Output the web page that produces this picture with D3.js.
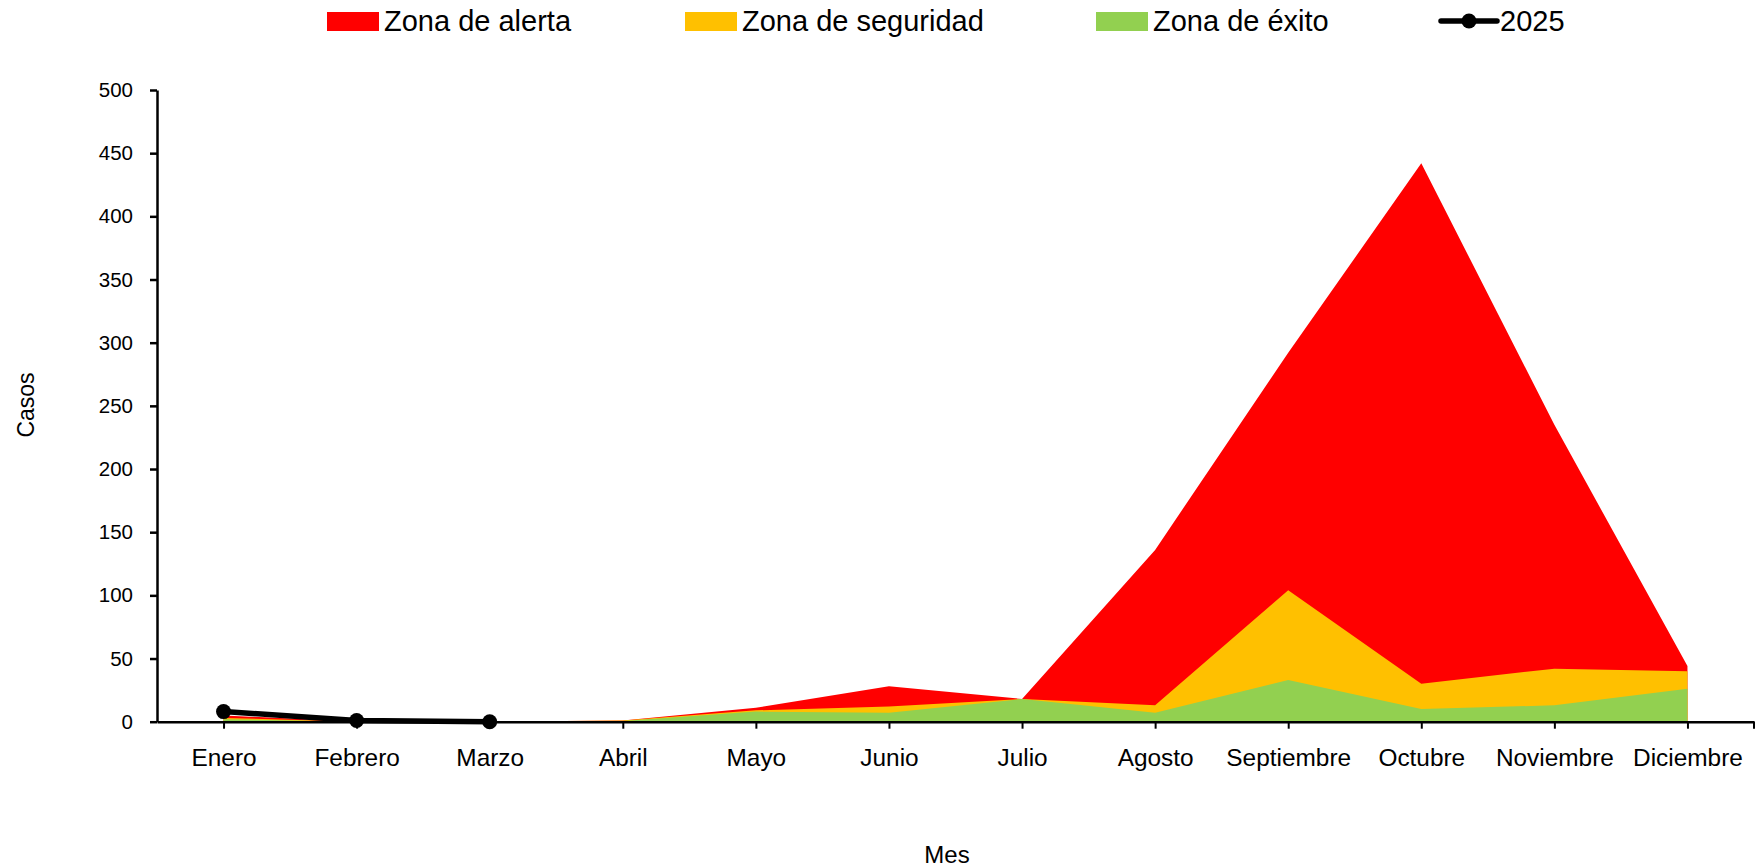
<!DOCTYPE html>
<html>
<head>
<meta charset="utf-8">
<script src="https://cdn.jsdelivr.net/npm/d3@7"></script>
<style>
  html, body { margin: 0; padding: 0; background: #fff; }
  svg { display: block; font-family: "Liberation Sans", Arial, sans-serif; }
</style>
</head>
<body>
<div id="chart"></div>
<script>
const months = ["Enero", "Febrero", "Marzo", "Abril", "Mayo", "Junio", "Julio",
  "Agosto", "Septiembre", "Octubre", "Noviembre", "Diciembre"];

// top edge of each zone (cases)
const alerta    = [5, 0, 0, 1, 11, 28, 18, 136, 292, 442, 235, 44];
const seguridad = [3, 0, 0, 1, 9, 12, 18, 13, 104, 30, 42, 40];
const exito     = [2, 0, 0, 0.5, 8, 7, 18, 7, 33, 10, 13, 26];

// 2025 observed cases (only first quarter)
const casos2025 = [8, 1, 0];

const yTicks = [0, 50, 100, 150, 200, 250, 300, 350, 400, 450, 500];

const width = 1757;
const height = 867;
const marginTop = 90;
const marginRight = 3;
const marginBottom = 145.3;
const marginLeft = 157;

const x = d3.scalePoint()
    .domain(months)
    .range([marginLeft, width - marginRight])
    .padding(0.5);
const y = d3.scaleLinear()
    .domain([0, 500])
    .range([height - marginBottom, marginTop]);

const svg = d3.select("#chart")
  .append("svg")
    .attr("width", width)
    .attr("height", height);

// zones, biggest first so the smaller ones sit on top
const zones = [
  {name: "Zona de alerta", values: alerta, color: "#ff0000"},
  {name: "Zona de seguridad", values: seguridad, color: "#ffc000"},
  {name: "Zona de éxito", values: exito, color: "#92d050"}
];

const area = d3.area()
    .x((d, i) => x(months[i]))
    .y0(y(0))
    .y1(d => y(d));

svg.append("g")
  .selectAll("path")
  .data(zones)
  .join("path")
    .attr("d", d => area(d.values))
    .attr("fill", d => d.color);

// y axis
const yAxis = svg.append("g")
    .attr("transform", `translate(${marginLeft},0)`)
    .call(d3.axisLeft(y).tickValues(yTicks).tickSize(7).tickPadding(17).tickSizeOuter(0));
yAxis.select(".domain").attr("stroke", "#000").attr("stroke-width", 2.5);
yAxis.selectAll(".tick line").attr("stroke", "#000").attr("stroke-width", 2.5);
yAxis.selectAll(".tick text")
    .attr("fill", "#000")
    .style("font-size", "20.5px");

// x axis
const xAxis = svg.append("g")
    .attr("transform", `translate(0,${y(0)})`)
    .call(d3.axisBottom(x).tickSize(7).tickSizeOuter(0));
xAxis.select(".domain").attr("stroke", "#000").attr("stroke-width", 2.5);
xAxis.selectAll(".tick line").attr("stroke", "#000").attr("stroke-width", 2);
xAxis.selectAll(".tick text")
    .attr("fill", "#000")
    .attr("y", 44)
    .attr("dy", 0)
    .style("font-size", "24.4px");
xAxis.append("line")
    .attr("x1", x.range()[1]).attr("x2", x.range()[1])
    .attr("y1", 0).attr("y2", 7)
    .attr("stroke", "#000").attr("stroke-width", 2);

// 2025 line
const line = d3.line()
    .x((d, i) => x(months[i]))
    .y(d => y(d));

svg.append("path")
    .datum(casos2025)
    .attr("d", line)
    .attr("fill", "none")
    .attr("stroke", "#000")
    .attr("stroke-width", 5.5)
    .attr("stroke-linejoin", "round");

svg.append("g")
  .selectAll("circle")
  .data(casos2025)
  .join("circle")
    .attr("cx", (d, i) => x(months[i]))
    .attr("cy", d => y(d))
    .attr("r", 7.5)
    .attr("fill", "#000");

// axis titles
svg.append("text")
    .attr("transform", "translate(34,405) rotate(-90)")
    .attr("text-anchor", "middle")
    .style("font-size", "23px")
    .text("Casos");

svg.append("text")
    .attr("x", 947)
    .attr("y", 863)
    .attr("text-anchor", "middle")
    .style("font-size", "24px")
    .text("Mes");

// legend
const legendItems = [
  {name: "Zona de alerta", color: "#ff0000", x: 327},
  {name: "Zona de seguridad", color: "#ffc000", x: 685},
  {name: "Zona de éxito", color: "#92d050", x: 1096}
];

const legend = svg.append("g");
legendItems.forEach(item => {
  legend.append("rect")
      .attr("x", item.x)
      .attr("y", 12)
      .attr("width", 52)
      .attr("height", 19)
      .attr("fill", item.color);
  legend.append("text")
      .attr("x", item.x + 57)
      .attr("y", 31)
      .style("font-size", "29px")
      .text(item.name);
});

legend.append("line")
    .attr("x1", 1441).attr("x2", 1497)
    .attr("y1", 21).attr("y2", 21)
    .attr("stroke", "#000")
    .attr("stroke-width", 5.5)
    .attr("stroke-linecap", "round");
legend.append("circle")
    .attr("cx", 1469).attr("cy", 21).attr("r", 7.5)
    .attr("fill", "#000");
legend.append("text")
    .attr("x", 1500)
    .attr("y", 31)
    .style("font-size", "29px")
    .text("2025");
</script>
</body>
</html>
